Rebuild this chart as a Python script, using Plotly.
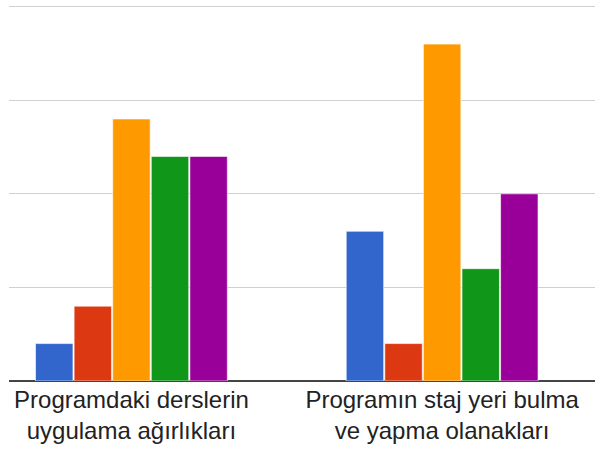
import plotly.graph_objects as go

categories = ["Programdaki derslerin<br>uygulama ağırlıkları",
              "Programın staj yeri bulma<br>ve yapma olanakları"]
series_names = ["S1", "S2", "S3", "S4", "S5"]
series_values = [
    [1, 4],
    [2, 1],
    [7, 9],
    [6, 3],
    [6, 5],
]
colors = ["#3366cc", "#dc3912", "#ff9900", "#109618", "#990099"]

fig = go.Figure()
for name, vals, col in zip(series_names, series_values, colors):
    fig.add_trace(go.Bar(
        x=[0, 1], y=vals, name=name,
        marker=dict(color=col, line=dict(color="rgba(255,255,255,0.6)", width=1)),
    ))

fig.update_layout(
    width=595, height=450,
    margin=dict(l=9, r=0, t=5, b=69, autoexpand=False),
    paper_bgcolor="white", plot_bgcolor="white",
    showlegend=False,
    barmode="group",
    bargap=0.379, bargroupgap=0.03,
    font=dict(family="Liberation Sans, Arial", size=24, color="#222222"),
)
fig.update_xaxes(
    range=[-0.394, 1.492], automargin=False,
    tickmode="array", tickvals=[0, 1], ticktext=categories,
    showgrid=False, showline=False, zeroline=False, ticks="",
    ticklabelstandoff=2,
    tickfont=dict(size=24, color="#222222"),
)
fig.update_yaxes(
    range=[0, 10.045], automargin=False,
    tickmode="array", tickvals=[0, 2.5, 5, 7.5, 10],
    showticklabels=False,
    showgrid=True, gridcolor="#d0d0d0", gridwidth=1,
    zeroline=True, zerolinecolor="#444444", zerolinewidth=2,
    showline=False,
)

fig.write_html(
    "out.html",
    config={"displayModeBar": False},
    post_script="document.body.style.margin='0';document.body.style.overflow='hidden';",
)
